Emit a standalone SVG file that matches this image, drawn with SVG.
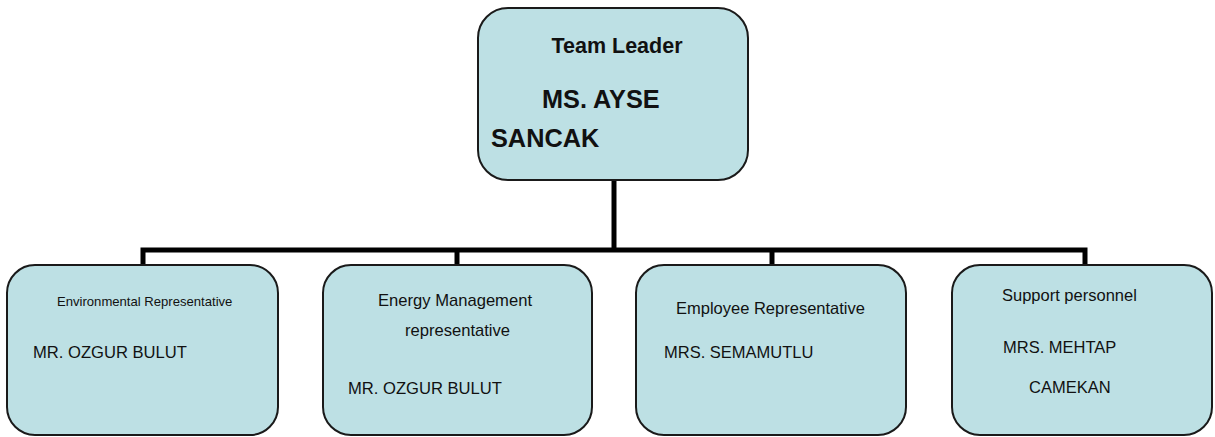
<svg xmlns="http://www.w3.org/2000/svg" width="1215" height="437" viewBox="0 0 1215 437">
<style>
.box{fill:#BDE0E4;stroke:#1a1a1a;stroke-width:2}
.t{font-family:"Liberation Sans",Arial,sans-serif;fill:#111}
.b{font-weight:bold}
.con{fill:none;stroke:#000;stroke-width:5;stroke-linejoin:miter}
</style>
<rect width="1215" height="437" fill="#fff"/>
<g id="connectors">
<path class="con" d="M614 180 V250"/>
<path class="con" d="M143 266 V250 H1085 V266"/>
<path class="con" d="M457 250 V266"/>
<path class="con" d="M772 250 V266"/>
</g>
<g id="team-leader">
<rect class="box" x="478" y="8" width="270" height="172" rx="30"/>
<text class="t b" x="617" y="53" font-size="21.5" text-anchor="middle">Team Leader</text>
<text class="t b" x="542" y="108" font-size="25.3">MS. AYSE</text>
<text class="t b" x="491" y="147" font-size="25.3">SANCAK</text>
</g>
<g id="environmental">
<rect class="box" x="7" y="265" width="271" height="170" rx="28"/>
<text class="t" x="57" y="306" font-size="13.1">Environmental Representative</text>
<text class="t" x="33" y="358" font-size="16.6">MR. OZGUR BULUT</text>
</g>
<g id="energy">
<rect class="box" x="323" y="265" width="269" height="170" rx="28"/>
<text class="t" x="455" y="306" font-size="16.6" text-anchor="middle">Energy Management</text>
<text class="t" x="457.5" y="336" font-size="16.6" text-anchor="middle">representative</text>
<text class="t" x="348" y="394" font-size="16.6">MR. OZGUR BULUT</text>
</g>
<g id="employee">
<rect class="box" x="636" y="265" width="270" height="170" rx="28"/>
<text class="t" x="676" y="314" font-size="16.5">Employee Representative</text>
<text class="t" x="664" y="358" font-size="16.5">MRS. SEMAMUTLU</text>
</g>
<g id="support">
<rect class="box" x="952" y="265" width="260" height="170" rx="28"/>
<text class="t" x="1002" y="301" font-size="16.5">Support personnel</text>
<text class="t" x="1003" y="353" font-size="16.5">MRS. MEHTAP</text>
<text class="t" x="1029" y="393" font-size="16.5">CAMEKAN</text>
</g>
</svg>
